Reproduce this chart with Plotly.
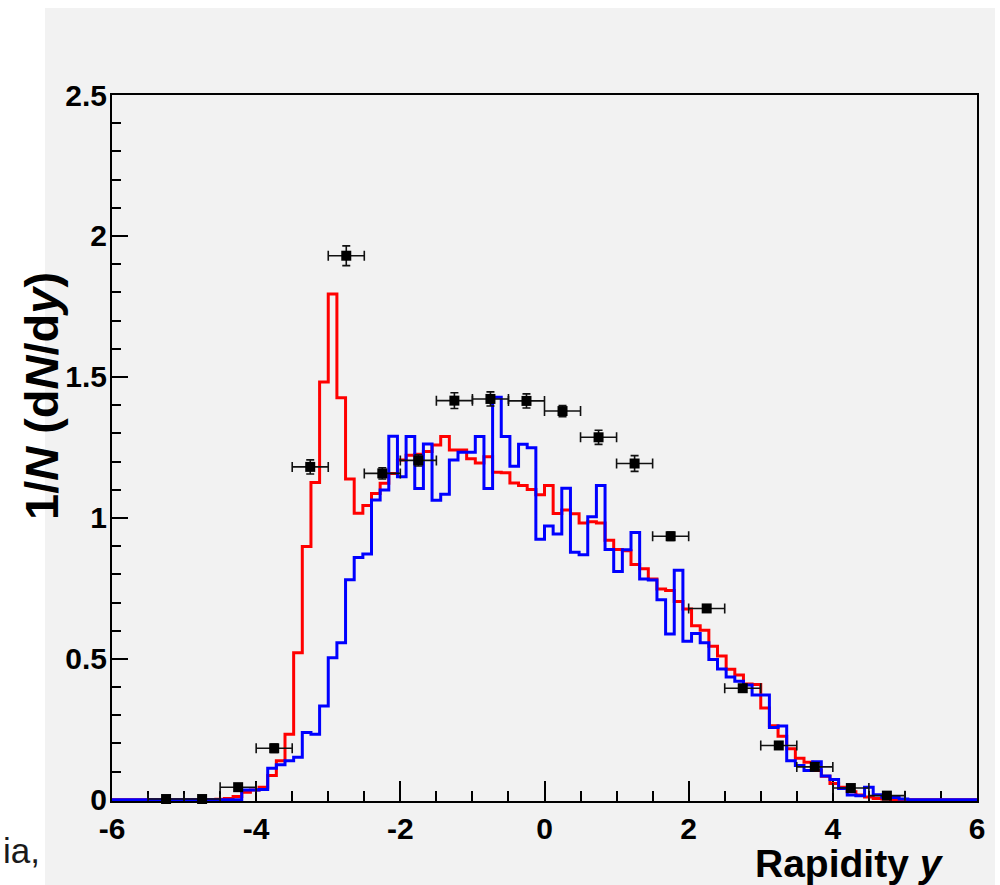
import numpy as np
import plotly.graph_objects as go

# ---------------- data ----------------
n_bins = 100
x_min, x_max = -6.0, 6.0
bin_edges = np.linspace(x_min, x_max, n_bins + 1)

red_values = [
    0, 0, 0, 0, 0, 0, 0, 0, 0, 0,
    0, 0, 0.002, 0.005, 0.012, 0.027, 0.035, 0.045, 0.086, 0.139,
    0.233, 0.522, 0.899, 1.126, 1.482, 1.794, 1.426, 1.138, 1.017, 1.044,
    1.087, 1.123, 1.158, 1.205, 1.222, 1.226, 1.236, 1.259, 1.289, 1.241,
    1.241, 1.210, 1.195, 1.217, 1.162, 1.160, 1.124, 1.115, 1.101, 1.082,
    1.115, 1.016, 1.028, 1.015, 0.982, 0.986, 0.982, 0.921, 0.888, 0.884,
    0.835, 0.820, 0.783, 0.748, 0.743, 0.704, 0.677, 0.618, 0.602, 0.545,
    0.510, 0.463, 0.443, 0.411, 0.409, 0.326, 0.263, 0.226, 0.181, 0.148,
    0.133, 0.104, 0.084, 0.058, 0.045, 0.029, 0.017, 0.010, 0.005, 0.003,
    0.001, 0, 0, 0, 0, 0, 0, 0, 0, 0,
]

blue_values = [
    0, 0, 0, 0, 0, 0, 0, 0, 0, 0,
    0, 0, 0, 0, 0, 0.035, 0.035, 0.037, 0.112, 0.125,
    0.139, 0.151, 0.239, 0.233, 0.333, 0.504, 0.557, 0.781, 0.860, 0.872,
    1.064, 1.099, 1.290, 1.146, 1.289, 1.104, 1.262, 1.063, 1.084, 1.205,
    1.233, 1.233, 1.289, 1.104, 1.428, 1.289, 1.183, 1.261, 1.249, 0.924,
    0.971, 0.943, 1.105, 0.878, 0.869, 1.004, 1.115, 0.888, 0.810, 0.887,
    0.948, 0.783, 0.780, 0.710, 0.588, 0.814, 0.563, 0.590, 0.557, 0.498,
    0.464, 0.436, 0.421, 0.407, 0.372, 0.372, 0.257, 0.262, 0.139, 0.122,
    0.104, 0.135, 0.085, 0.072, 0.040, 0.017, 0.015, 0.045, 0.018, 0.009,
    0.008, 0.003, 0, 0, 0, 0, 0, 0, 0, 0,
]

data_x = [-5.25, -4.75, -4.25, -3.75, -3.25, -2.75, -2.25, -1.75, -1.25, -0.75,
          -0.25, 0.25, 0.75, 1.25, 1.75, 2.25, 2.75, 3.25, 3.75, 4.25, 4.75]
data_y = [0.003, 0.003, 0.045, 0.183, 1.181, 1.930, 1.158, 1.204, 1.416, 1.422,
          1.415, 1.379, 1.286, 1.193, 0.935, 0.679, 0.396, 0.193, 0.117, 0.042, 0.015]
data_xerr = [0.25] * len(data_x)
data_yerr = [0.005, 0.005, 0.01, 0.015, 0.025, 0.035, 0.02, 0.02, 0.028, 0.025,
             0.025, 0.02, 0.025, 0.028, 0.015, 0.01, 0.01, 0.012, 0.012, 0.005, 0.005]

x_tick_vals = [-6, -4, -2, 0, 2, 4, 6]
x_tick_text = ["-6", "-4", "-2", "0", "2", "4", "6"]
y_tick_vals = [0, 0.5, 1, 1.5, 2, 2.5]
y_tick_text = ["0", "0.5", "1", "1.5", "2", "2.5"]

# ---------------- figure ----------------
FONT = "Liberation Sans, Arial, Helvetica, sans-serif"
BG = "#f2f2f2"

def step_xy(values):
    xs = list(bin_edges)
    ys = list(values) + [values[-1]]
    return xs, ys

fig = go.Figure()

rx, ry = step_xy(red_values)
fig.add_trace(go.Scatter(x=rx, y=ry, mode="lines", line_shape="hv",
                         line=dict(color="#ff0000", width=3), hoverinfo="skip",
                         showlegend=False))
bx, by = step_xy(blue_values)
fig.add_trace(go.Scatter(x=bx, y=by, mode="lines", line_shape="hv",
                         line=dict(color="#0000ff", width=3), hoverinfo="skip",
                         showlegend=False))

fig.add_trace(go.Scatter(
    x=data_x, y=data_y, mode="markers",
    marker=dict(symbol="square", size=10, color="black"),
    error_x=dict(type="data", array=data_xerr, color="#111111", thickness=1.6, width=5),
    error_y=dict(type="data", array=data_yerr, color="#111111", thickness=1.6, width=4),
    showlegend=False, cliponaxis=False))

L, R, T, B = 112, 23, 95, 84
W, H = 1000, 885
pw, ph = W - L - R, H - T - B

def px_x(p):
    return (p - L) / pw

def px_y(p):
    return (H - B - p) / ph

fig.add_shape(type="rect", xref="paper", yref="paper",
              x0=px_x(45), x1=px_x(995), y0=px_y(890), y1=px_y(8),
              fillcolor=BG, line=dict(width=0), layer="below")

fig.update_layout(
    width=W, height=H,
    margin=dict(l=L, r=R, t=T, b=B, pad=0),
    paper_bgcolor="white", plot_bgcolor=BG,
    showlegend=False,
    font=dict(family=FONT, color="black"),
)

fig.update_xaxes(
    range=[x_min, x_max], showgrid=False, zeroline=False,
    showline=True, linecolor="black", linewidth=2, mirror=True,
    ticks="inside", ticklen=20, tickwidth=1.5, tickcolor="black",
    tickvals=x_tick_vals, ticktext=x_tick_text,
    tickfont=dict(family=FONT, size=30, weight="bold", color="black"),
    minor=dict(ticks="inside", ticklen=10, tickwidth=1.5, tickcolor="black", dtick=0.5,
               showgrid=False),
    layer="below traces",
)
fig.update_yaxes(
    range=[-0.004, 2.5], showgrid=False, zeroline=False,
    showline=True, linecolor="black", linewidth=2, mirror=True,
    ticks="inside", ticklen=16, tickwidth=1.5, tickcolor="black",
    tickvals=y_tick_vals, ticktext=y_tick_text,
    tickfont=dict(family=FONT, size=30, weight="bold", color="black"),
    ticklabelstandoff=-3,
    minor=dict(ticks="inside", ticklen=9, tickwidth=1.5, tickcolor="black", dtick=0.1,
               showgrid=False),
    layer="below traces",
)

fig.add_annotation(
    text="<b>1/<i>N</i> (d<i>N</i>/d<i>y</i>)</b>", textangle=-90,
    xref="paper", yref="paper", x=px_x(41), y=px_y(396),
    xanchor="center", yanchor="middle", showarrow=False,
    font=dict(family=FONT, size=47, color="black"))
fig.add_annotation(
    text="<b>Rapidity <i>y</i></b>",
    xref="paper", yref="paper", x=px_x(946), y=px_y(863),
    xanchor="right", yanchor="middle", showarrow=False,
    font=dict(family=FONT, size=39, color="black"))
fig.add_annotation(
    text="ia,",
    xref="paper", yref="paper", x=px_x(42), y=px_y(850),
    xanchor="right", yanchor="middle", showarrow=False,
    font=dict(family=FONT, size=35, color="#1a1a1a"))

fig.write_html(
    "out.html",
    config={"displayModeBar": False},
    post_script="document.body.style.margin='0';document.body.style.overflow='hidden';",
)
